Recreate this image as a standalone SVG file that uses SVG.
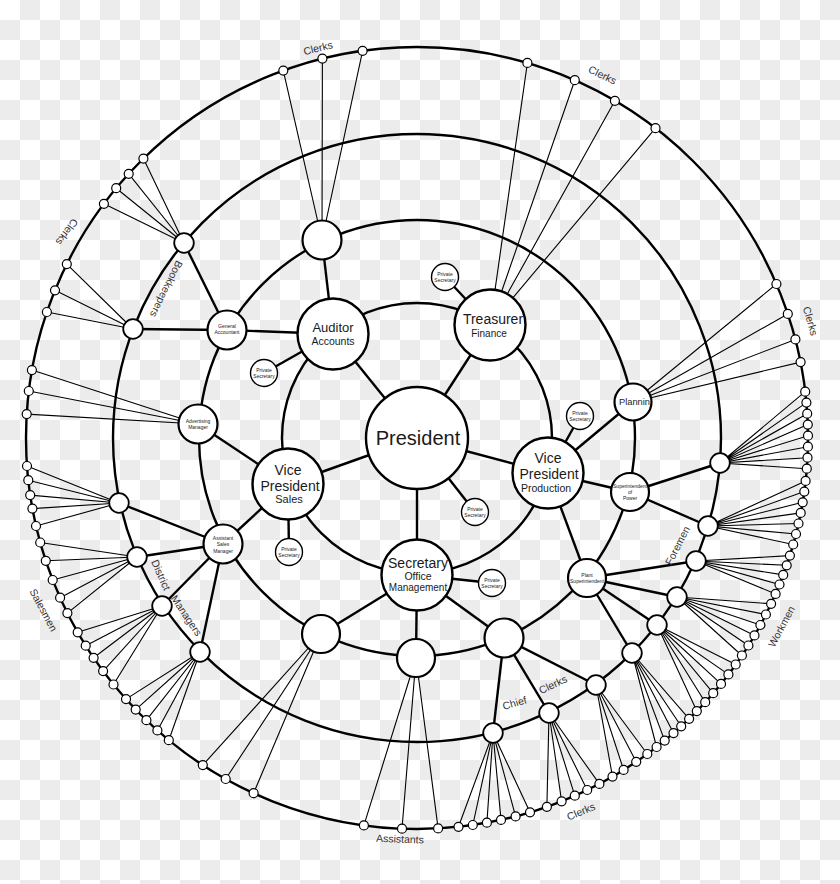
<svg xmlns="http://www.w3.org/2000/svg" width="840" height="884" viewBox="0 0 840 884">
<defs>
<pattern id="chk" width="40" height="40" patternUnits="userSpaceOnUse">
<rect width="40" height="40" fill="#fff"/>
<rect x="20" y="0" width="20" height="20" fill="#ececec"/>
<rect x="0" y="20" width="20" height="20" fill="#ececec"/>
</pattern>
</defs>
<style>
.ring{fill:none;stroke:#000;stroke-width:2.4}
.c line{stroke:#000;stroke-width:2.4}
.f{fill:none;stroke:#000;stroke-width:1.1}
.big{fill:#fff;stroke:#000;stroke-width:2.4}
.mid{fill:#fff;stroke:#000;stroke-width:2.2}
.sm{fill:#fff;stroke:#000;stroke-width:1.8}
.ps{fill:#fff;stroke:#000;stroke-width:1.4}
.o{fill:#fff;stroke:#000;stroke-width:1.2}
text{font-family:"Liberation Sans",Arial,sans-serif;text-anchor:middle;fill:#1a1a1a}
.tiny{font-size:5px}
.lab{font-size:10.5px;fill:#333}
</style>
<rect width="840" height="884" fill="url(#chk)"/>
<g id="rings">
<circle class="ring" cx="417" cy="438" r="391"/>
<circle class="ring" cx="417" cy="438" r="304"/>
<circle class="ring" cx="417" cy="438" r="218"/>
<circle class="ring" cx="417" cy="438" r="135"/>
</g>
<g id="connectors">
<g class="c">
<line x1="417" y1="438" x2="333" y2="334"/>
<line x1="417" y1="438" x2="490" y2="325"/>
<line x1="417" y1="438" x2="548" y2="473"/>
<line x1="417" y1="438" x2="417" y2="575"/>
<line x1="417" y1="438" x2="288" y2="484"/>
<line x1="417" y1="438" x2="475" y2="512"/>
<line x1="333" y1="334" x2="264" y2="373"/>
<line x1="333" y1="334" x2="322" y2="240"/>
<line x1="333" y1="334" x2="227" y2="330"/>
<line x1="490" y1="325" x2="445" y2="277"/>
<line x1="288" y1="484" x2="198" y2="424"/>
<line x1="288" y1="484" x2="223" y2="544"/>
<line x1="288" y1="484" x2="289" y2="552"/>
<line x1="548" y1="473" x2="580" y2="416"/>
<line x1="548" y1="473" x2="633" y2="402"/>
<line x1="548" y1="473" x2="630" y2="492"/>
<line x1="548" y1="473" x2="587" y2="578"/>
<line x1="417" y1="575" x2="492" y2="583"/>
<line x1="417" y1="575" x2="321" y2="634"/>
<line x1="417" y1="575" x2="416" y2="658"/>
<line x1="417" y1="575" x2="504" y2="638"/>
<line x1="227" y1="330" x2="184" y2="243"/>
<line x1="227" y1="330" x2="133" y2="329"/>
<line x1="223" y1="544" x2="119" y2="503"/>
<line x1="223" y1="544" x2="137" y2="557"/>
<line x1="223" y1="544" x2="162" y2="606"/>
<line x1="223" y1="544" x2="200" y2="652"/>
<line x1="630" y1="492" x2="720" y2="463"/>
<line x1="630" y1="492" x2="708" y2="526"/>
<line x1="587" y1="578" x2="696" y2="561"/>
<line x1="587" y1="578" x2="677" y2="597"/>
<line x1="587" y1="578" x2="657" y2="625"/>
<line x1="587" y1="578" x2="632" y2="653"/>
<line x1="504" y1="638" x2="596" y2="685"/>
<line x1="504" y1="638" x2="549" y2="713"/>
<line x1="504" y1="638" x2="493" y2="733"/>
</g>
<path class="f" d="M322 240L283.3 70.6M322 240L322.4 58.6M322 240L362.6 50.8"/>
<path class="f" d="M490 325L527.4 62.9M490 325L574.8 80.2M490 325L614.9 100.8M490 325L655.5 128.2"/>
<path class="f" d="M633 402L776.4 284M633 402L787.8 313.9M633 402L795.4 339.4M633 402L800.6 362.1"/>
<path class="f" d="M720 463L805.2 391.7M720 463L806.4 402.6M720 463L807.2 413.7M720 463L807.8 424.6M720 463L808 435.7M720 463L807.9 446.7M720 463L807.5 457.7M720 463L806.8 468.7"/>
<path class="f" d="M708 526L805.6 480.9M708 526L804.3 491.6M708 526L802.7 502.3M708 526L800.7 512.9M708 526L798.5 523.5M708 526L796 534M708 526L793.2 544.5"/>
<path class="f" d="M696 561L789.9 555.6M696 561L786.7 565.3M696 561L783.2 574.9M696 561L779.5 584.5M696 561L775.6 593.9"/>
<path class="f" d="M677 597L771.1 603.8M677 597L765.9 614.5M677 597L760.4 625M677 597L754.5 635.4M677 597L748.4 645.5M677 597L741.9 655.5"/>
<path class="f" d="M657 625L735.7 664.5M657 625L728.4 674.4M657 625L721 683.9M657 625L713.2 693.2M657 625L705.2 702.2M657 625L696.8 711.1"/>
<path class="f" d="M632 653L689.1 718.8M632 653L681.2 726.3M632 653L673.5 733.1M632 653L664.7 740.6M632 653L656.6 747"/>
<path class="f" d="M596 685L647.3 754M596 685L636.2 761.8M596 685L623.6 769.9M596 685L612.5 776.6"/>
<path class="f" d="M549 713L599.4 783.9M549 713L587.2 790M549 713L574.8 795.7M549 713L561.6 801.3M549 713L546.9 806.8"/>
<path class="f" d="M493 733L530 812.3M493 733L515.6 816.4M493 733L501 819.9M493 733L486.9 822.7M493 733L472.8 825M493 733L458.5 826.8"/>
<path class="f" d="M416 658L438.1 828.4M416 658L402 828.7M416 658L363.9 825.4"/>
<path class="f" d="M321 634L253.6 793.2M321 634L225.7 779M321 634L202.8 765.1"/>
<path class="f" d="M200 652L168.8 740.2M200 652L157.4 730.4M200 652L146.4 720.2M200 652L135.7 709.6M200 652L126 699.1"/>
<path class="f" d="M162 606L113.5 684.5M162 606L103.1 671.1M162 606L93.6 657.8M162 606L85.7 645.7M162 606L77.7 632.3"/>
<path class="f" d="M137 557L67.4 613.1M137 557L60.1 597.7M137 557L52.7 580M137 557L45.8 560.8M137 557L40.2 542.5"/>
<path class="f" d="M119 503L36 526M119 503L32.4 508.6M119 503L30.2 495.1M119 503L28.3 480.2M119 503L27 466"/>
<path class="f" d="M198 424L31.9 370.1M198 424L28.8 391M198 424L26.7 414.1"/>
<path class="f" d="M133 329L66.8 264.1M133 329L55 290.3M133 329L46.9 312"/>
<path class="f" d="M184 243L143.4 158.6M184 243L128.7 173.8M184 243L116.2 188.2M184 243L103.9 203.8"/>
</g>
<g id="nodes">
<g id="president"><circle class="big" cx="417" cy="438" r="51"/><text x="418" y="445" font-size="20">President</text></g>
<g id="auditor"><circle class="big" cx="333" cy="334" r="35.5"/><text x="333" y="332" font-size="13">Auditor</text><text x="333" y="345" font-size="10.5">Accounts</text></g>
<g id="treasurer"><circle class="big" cx="490" cy="325" r="35.5"/><text x="493" y="324" font-size="14">Treasurer</text><text x="489" y="337" font-size="10">Finance</text></g>
<g id="vp-sales"><circle class="big" cx="288" cy="484" r="35.5"/><text x="288" y="475" font-size="14">Vice</text><text x="290" y="491" font-size="14">President</text><text x="289" y="503" font-size="11">Sales</text></g>
<g id="vp-production"><circle class="big" cx="548" cy="473" r="35.5"/><text x="548" y="463" font-size="14">Vice</text><text x="549" y="479" font-size="14">President</text><text x="546" y="492" font-size="10.5">Production</text></g>
<g id="secretary"><circle class="big" cx="417" cy="575" r="35.5"/><text x="418" y="568" font-size="14">Secretary</text><text x="418" y="580" font-size="10.5">Office</text><text x="418" y="591" font-size="10">Management</text></g>
<g id="ps-treasurer"><circle class="ps" cx="445" cy="277" r="13.5"/><text class="tiny" x="445" y="276">Private</text><text class="tiny" x="445" y="282">Secretary</text></g>
<g id="ps-auditor"><circle class="ps" cx="264" cy="373" r="13.5"/><text class="tiny" x="264" y="372">Private</text><text class="tiny" x="264" y="378">Secretary</text></g>
<g id="ps-production"><circle class="ps" cx="580" cy="416" r="13.5"/><text class="tiny" x="580" y="415">Private</text><text class="tiny" x="580" y="421">Secretary</text></g>
<g id="ps-president"><circle class="ps" cx="475" cy="512" r="13.5"/><text class="tiny" x="475" y="511">Private</text><text class="tiny" x="475" y="517">Secretary</text></g>
<g id="ps-sales"><circle class="ps" cx="289" cy="552" r="13.5"/><text class="tiny" x="289" y="551">Private</text><text class="tiny" x="289" y="557">Secretary</text></g>
<g id="ps-secretary"><circle class="ps" cx="492" cy="583" r="13.5"/><text class="tiny" x="492" y="582">Private</text><text class="tiny" x="492" y="588">Secretary</text></g>
<g id="top-clerk-head"><circle class="mid" cx="322" cy="240" r="19.5"/></g>
<g id="general-accountant"><circle class="mid" cx="227" cy="330" r="19.5"/><text class="tiny" x="227" y="328">General</text><text class="tiny" x="227" y="334">Accountant</text></g>
<g id="advertising-manager"><circle class="mid" cx="198" cy="424" r="19.5"/><text class="tiny" x="198" y="422.5">Advertising</text><text class="tiny" x="198" y="429">Manager</text></g>
<g id="assistant-sales-manager"><circle class="mid" cx="223" cy="544" r="19.5"/><text class="tiny" x="223" y="539.5">Assistant</text><text class="tiny" x="223" y="546">Sales</text><text class="tiny" x="223" y="552.5">Manager</text></g>
<g id="planning"><circle class="mid" cx="633" cy="402" r="18.5"/><text x="634.5" y="405" font-size="9.3">Plannin</text></g>
<g id="superintendent-power"><circle class="mid" cx="630" cy="492" r="19"/><text class="tiny" x="630" y="488">Superintendent</text><text class="tiny" x="630" y="494">of</text><text class="tiny" x="630" y="500">Power</text></g>
<g id="plant-superintendent"><circle class="mid" cx="587" cy="578" r="19"/><text class="tiny" x="587" y="577">Plant</text><text class="tiny" x="587" y="583">Superintendent</text></g>
<g id="assistants-head-1"><circle class="mid" cx="321" cy="634" r="19"/></g>
<g id="assistants-head-2"><circle class="mid" cx="416" cy="658" r="19"/></g>
<g id="office-head"><circle class="mid" cx="504" cy="638" r="19.5"/></g>
<g id="bookkeeper-1"><circle class="sm" cx="184" cy="243" r="9.8"/></g>
<g id="bookkeeper-2"><circle class="sm" cx="133" cy="329" r="9.8"/></g>
<g id="district-1"><circle class="sm" cx="119" cy="503" r="9.8"/></g>
<g id="district-2"><circle class="sm" cx="137" cy="557" r="9.8"/></g>
<g id="district-3"><circle class="sm" cx="162" cy="606" r="9.8"/></g>
<g id="district-4"><circle class="sm" cx="200" cy="652" r="9.8"/></g>
<g id="foreman-1"><circle class="sm" cx="720" cy="463" r="9.8"/></g>
<g id="foreman-2"><circle class="sm" cx="708" cy="526" r="9.8"/></g>
<g id="foreman-3"><circle class="sm" cx="696" cy="561" r="9.8"/></g>
<g id="foreman-4"><circle class="sm" cx="677" cy="597" r="9.8"/></g>
<g id="foreman-5"><circle class="sm" cx="657" cy="625" r="9.8"/></g>
<g id="foreman-6"><circle class="sm" cx="632" cy="653" r="9.8"/></g>
<g id="chief-clerk-1"><circle class="sm" cx="596" cy="685" r="9.8"/></g>
<g id="chief-clerk-2"><circle class="sm" cx="549" cy="713" r="9.8"/></g>
<g id="chief-clerk-3"><circle class="sm" cx="493" cy="733" r="9.8"/></g>
<g id="a1"><circle class="o" cx="283.3" cy="70.6" r="4.5"/></g>
<g id="a2"><circle class="o" cx="322.4" cy="58.6" r="4.5"/></g>
<g id="a3"><circle class="o" cx="362.6" cy="50.8" r="4.5"/></g>
<g id="b1"><circle class="o" cx="527.4" cy="62.9" r="4.5"/></g>
<g id="b2"><circle class="o" cx="574.8" cy="80.2" r="4.5"/></g>
<g id="b3"><circle class="o" cx="614.9" cy="100.8" r="4.5"/></g>
<g id="b4"><circle class="o" cx="655.5" cy="128.2" r="4.5"/></g>
<g id="c1"><circle class="o" cx="776.4" cy="284" r="4.5"/></g>
<g id="c2"><circle class="o" cx="787.8" cy="313.9" r="4.5"/></g>
<g id="c3"><circle class="o" cx="795.4" cy="339.4" r="4.5"/></g>
<g id="c4"><circle class="o" cx="800.6" cy="362.1" r="4.5"/></g>
<g id="d1"><circle class="o" cx="805.2" cy="391.7" r="4.5"/></g>
<g id="d2"><circle class="o" cx="806.4" cy="402.6" r="4.5"/></g>
<g id="d3"><circle class="o" cx="807.2" cy="413.7" r="4.5"/></g>
<g id="d4"><circle class="o" cx="807.8" cy="424.6" r="4.5"/></g>
<g id="d5"><circle class="o" cx="808" cy="435.7" r="4.5"/></g>
<g id="d6"><circle class="o" cx="807.9" cy="446.7" r="4.5"/></g>
<g id="d7"><circle class="o" cx="807.5" cy="457.7" r="4.5"/></g>
<g id="d8"><circle class="o" cx="806.8" cy="468.7" r="4.5"/></g>
<g id="e1"><circle class="o" cx="805.6" cy="480.9" r="4.5"/></g>
<g id="e2"><circle class="o" cx="804.3" cy="491.6" r="4.5"/></g>
<g id="e3"><circle class="o" cx="802.7" cy="502.3" r="4.5"/></g>
<g id="e4"><circle class="o" cx="800.7" cy="512.9" r="4.5"/></g>
<g id="e5"><circle class="o" cx="798.5" cy="523.5" r="4.5"/></g>
<g id="e6"><circle class="o" cx="796" cy="534" r="4.5"/></g>
<g id="e7"><circle class="o" cx="793.2" cy="544.5" r="4.5"/></g>
<g id="f1"><circle class="o" cx="789.9" cy="555.6" r="4.5"/></g>
<g id="f2"><circle class="o" cx="786.7" cy="565.3" r="4.5"/></g>
<g id="f3"><circle class="o" cx="783.2" cy="574.9" r="4.5"/></g>
<g id="f4"><circle class="o" cx="779.5" cy="584.5" r="4.5"/></g>
<g id="f5"><circle class="o" cx="775.6" cy="593.9" r="4.5"/></g>
<g id="g1"><circle class="o" cx="771.1" cy="603.8" r="4.5"/></g>
<g id="g2"><circle class="o" cx="765.9" cy="614.5" r="4.5"/></g>
<g id="g3"><circle class="o" cx="760.4" cy="625" r="4.5"/></g>
<g id="g4"><circle class="o" cx="754.5" cy="635.4" r="4.5"/></g>
<g id="g5"><circle class="o" cx="748.4" cy="645.5" r="4.5"/></g>
<g id="g6"><circle class="o" cx="741.9" cy="655.5" r="4.5"/></g>
<g id="h1"><circle class="o" cx="735.7" cy="664.5" r="4.5"/></g>
<g id="h2"><circle class="o" cx="728.4" cy="674.4" r="4.5"/></g>
<g id="h3"><circle class="o" cx="721" cy="683.9" r="4.5"/></g>
<g id="h4"><circle class="o" cx="713.2" cy="693.2" r="4.5"/></g>
<g id="h5"><circle class="o" cx="705.2" cy="702.2" r="4.5"/></g>
<g id="h6"><circle class="o" cx="696.8" cy="711.1" r="4.5"/></g>
<g id="i1"><circle class="o" cx="689.1" cy="718.8" r="4.5"/></g>
<g id="i2"><circle class="o" cx="681.2" cy="726.3" r="4.5"/></g>
<g id="i3"><circle class="o" cx="673.5" cy="733.1" r="4.5"/></g>
<g id="i4"><circle class="o" cx="664.7" cy="740.6" r="4.5"/></g>
<g id="i5"><circle class="o" cx="656.6" cy="747" r="4.5"/></g>
<g id="j1"><circle class="o" cx="647.3" cy="754" r="4.5"/></g>
<g id="j2"><circle class="o" cx="636.2" cy="761.8" r="4.5"/></g>
<g id="j3"><circle class="o" cx="623.6" cy="769.9" r="4.5"/></g>
<g id="j4"><circle class="o" cx="612.5" cy="776.6" r="4.5"/></g>
<g id="k1"><circle class="o" cx="599.4" cy="783.9" r="4.5"/></g>
<g id="k2"><circle class="o" cx="587.2" cy="790" r="4.5"/></g>
<g id="k3"><circle class="o" cx="574.8" cy="795.7" r="4.5"/></g>
<g id="k4"><circle class="o" cx="561.6" cy="801.3" r="4.5"/></g>
<g id="k5"><circle class="o" cx="546.9" cy="806.8" r="4.5"/></g>
<g id="l1"><circle class="o" cx="530" cy="812.3" r="4.5"/></g>
<g id="l2"><circle class="o" cx="515.6" cy="816.4" r="4.5"/></g>
<g id="l3"><circle class="o" cx="501" cy="819.9" r="4.5"/></g>
<g id="l4"><circle class="o" cx="486.9" cy="822.7" r="4.5"/></g>
<g id="l5"><circle class="o" cx="472.8" cy="825" r="4.5"/></g>
<g id="l6"><circle class="o" cx="458.5" cy="826.8" r="4.5"/></g>
<g id="m1"><circle class="o" cx="438.1" cy="828.4" r="4.5"/></g>
<g id="m2"><circle class="o" cx="402" cy="828.7" r="4.5"/></g>
<g id="m3"><circle class="o" cx="363.9" cy="825.4" r="4.5"/></g>
<g id="n1"><circle class="o" cx="253.6" cy="793.2" r="4.5"/></g>
<g id="n2"><circle class="o" cx="225.7" cy="779" r="4.5"/></g>
<g id="n3"><circle class="o" cx="202.8" cy="765.1" r="4.5"/></g>
<g id="o1"><circle class="o" cx="168.8" cy="740.2" r="4.5"/></g>
<g id="o2"><circle class="o" cx="157.4" cy="730.4" r="4.5"/></g>
<g id="o3"><circle class="o" cx="146.4" cy="720.2" r="4.5"/></g>
<g id="o4"><circle class="o" cx="135.7" cy="709.6" r="4.5"/></g>
<g id="o5"><circle class="o" cx="126" cy="699.1" r="4.5"/></g>
<g id="p1"><circle class="o" cx="113.5" cy="684.5" r="4.5"/></g>
<g id="p2"><circle class="o" cx="103.1" cy="671.1" r="4.5"/></g>
<g id="p3"><circle class="o" cx="93.6" cy="657.8" r="4.5"/></g>
<g id="p4"><circle class="o" cx="85.7" cy="645.7" r="4.5"/></g>
<g id="p5"><circle class="o" cx="77.7" cy="632.3" r="4.5"/></g>
<g id="q1"><circle class="o" cx="67.4" cy="613.1" r="4.5"/></g>
<g id="q2"><circle class="o" cx="60.1" cy="597.7" r="4.5"/></g>
<g id="q3"><circle class="o" cx="52.7" cy="580" r="4.5"/></g>
<g id="q4"><circle class="o" cx="45.8" cy="560.8" r="4.5"/></g>
<g id="q5"><circle class="o" cx="40.2" cy="542.5" r="4.5"/></g>
<g id="r1"><circle class="o" cx="36" cy="526" r="4.5"/></g>
<g id="r2"><circle class="o" cx="32.4" cy="508.6" r="4.5"/></g>
<g id="r3"><circle class="o" cx="30.2" cy="495.1" r="4.5"/></g>
<g id="r4"><circle class="o" cx="28.3" cy="480.2" r="4.5"/></g>
<g id="r5"><circle class="o" cx="27" cy="466" r="4.5"/></g>
<g id="s1"><circle class="o" cx="31.9" cy="370.1" r="4.5"/></g>
<g id="s2"><circle class="o" cx="28.8" cy="391" r="4.5"/></g>
<g id="s3"><circle class="o" cx="26.7" cy="414.1" r="4.5"/></g>
<g id="t1"><circle class="o" cx="66.8" cy="264.1" r="4.5"/></g>
<g id="t2"><circle class="o" cx="55" cy="290.3" r="4.5"/></g>
<g id="t3"><circle class="o" cx="46.9" cy="312" r="4.5"/></g>
<g id="u1"><circle class="o" cx="143.4" cy="158.6" r="4.5"/></g>
<g id="u2"><circle class="o" cx="128.7" cy="173.8" r="4.5"/></g>
<g id="u3"><circle class="o" cx="116.2" cy="188.2" r="4.5"/></g>
<g id="u4"><circle class="o" cx="103.9" cy="203.8" r="4.5"/></g>
</g>
<g id="labels">
<text class="lab" transform="translate(318,48) rotate(-14)" y="3.7">Clerks</text>
<text class="lab" transform="translate(602.5,75) rotate(26)" y="3.7">Clerks</text>
<text class="lab" transform="translate(810.5,321) rotate(74)" y="3.7">Clerks</text>
<text class="lab" transform="translate(67,232) rotate(126)" y="3.7">Clerks</text>
<text class="lab" transform="translate(166.5,289) rotate(116)" y="3.7">Bookkeepers</text>
<text class="lab" transform="translate(43.5,610) rotate(62)" y="3.7">Salesmen</text>
<text class="lab" transform="translate(161,575) rotate(66)" y="3.7">District</text>
<text class="lab" transform="translate(186.5,615.5) rotate(56)" y="3.7">Managers</text>
<text class="lab" transform="translate(400,839) rotate(2)" y="3.7">Assistants</text>
<text class="lab" transform="translate(581,811.5) rotate(-23)" y="3.7">Clerks</text>
<text class="lab" transform="translate(781.5,626.5) rotate(-62)" y="3.7">Workmen</text>
<text class="lab" transform="translate(677.5,545.5) rotate(-63)" y="3.7">Foremen</text>
<text class="lab" transform="translate(514.5,703) rotate(-16)" y="3.7">Chief</text>
<text class="lab" transform="translate(553,684.5) rotate(-25)" y="3.7">Clerks</text>
</g>
</svg>
